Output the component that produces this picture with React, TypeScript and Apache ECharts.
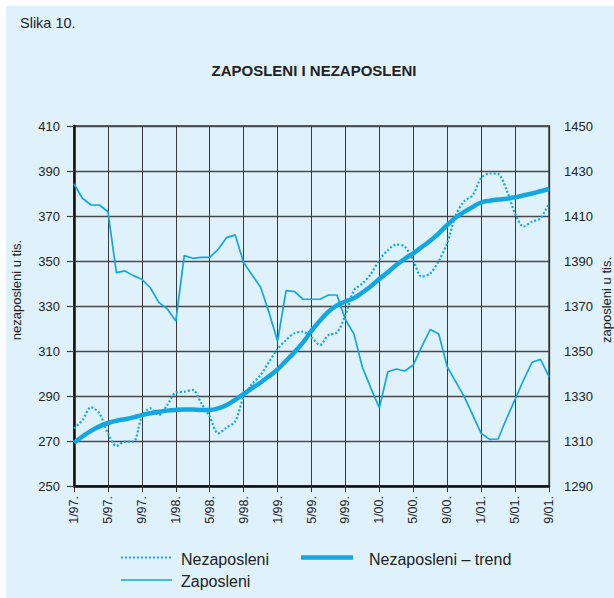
import React, { useEffect, useRef } from "react";
import * as echarts from "echarts";

// x categories: monthly from 1/97 to 9/01
const monthLabels: string[] = [];
for (let y = 1997; y <= 2001; y++) {
  for (let m = 1; m <= 12; m++) {
    if (y === 2001 && m > 9) break;
    monthLabels.push(`${m}/${String(y).slice(2)}.`);
  }
}

const nezaposleni = [
  275.6, 279.3, 285.0, 282.3, 273.4, 267.8, 269.7, 269.7, 280.8, 284.5, 281.6, 286.0,
  291.5, 291.9, 292.7, 286.8, 280.8, 273.4, 276.0, 278.6, 289.7, 295.3, 299.3, 305.2,
  310.8, 314.9, 317.9, 318.6, 316.0, 312.7, 317.1, 318.2, 326.0, 337.0, 340.0, 344.2,
  350.5, 354.8, 357.3, 356.4, 350.2, 343.0, 344.5, 350.0, 358.0, 370.2, 376.6, 379.2,
  386.9, 388.9, 388.7, 381.6, 371.2, 365.3, 367.5, 369.0, 375.8,
];

const nezaposleniTrend = [
  269.3, 272.0, 274.5, 276.5, 278.0, 279.0, 279.7, 280.5, 281.5, 282.3, 283.0, 283.5,
  283.8, 284.0, 284.0, 283.8, 283.8, 284.5, 286.0, 288.3, 290.9, 293.5, 296.0, 298.8,
  301.8, 305.6, 309.5, 313.8, 319.0, 323.5, 327.5, 330.3, 332.0, 333.5, 336.0, 338.8,
  342.0, 345.0, 348.2, 351.0, 353.4, 356.2, 359.0, 362.3, 366.0, 369.3, 371.8, 374.0,
  376.0, 376.8, 377.3, 377.7, 378.3, 379.2, 380.0, 381.0, 382.0,
];

const zaposleni = [
  1424.2, 1417.9, 1414.9, 1414.9, 1411.9, 1384.8, 1385.6, 1383.5, 1381.9, 1378.1, 1371.6, 1368.7,
  1363.3, 1392.4, 1391.2, 1391.6, 1391.6, 1395.2, 1400.4, 1401.6, 1389.3, 1383.8, 1378.3, 1367.0,
  1354.4, 1376.8, 1376.4, 1373.0, 1373.0, 1373.0, 1374.9, 1374.9, 1364.0, 1357.6, 1342.8, 1333.5,
  1324.7, 1340.8, 1342.0, 1341.1, 1343.8, 1351.9, 1359.6, 1357.6, 1343.0, 1336.4, 1329.7, 1321.6,
  1313.4, 1310.7, 1310.9, 1320.0, 1328.5, 1337.1, 1345.0, 1346.3, 1338.6,
];

const LINE = "#12a7e0";
const TXT = "#222222";
const GRIDC = "#3a3a3a";
const FONT = "'Liberation Sans', Arial, Helvetica, sans-serif";

export default function App() {
  const ref = useRef<HTMLDivElement>(null);
  useEffect(() => {
    if (!ref.current) return;
    const chart = echarts.init(ref.current, undefined, { renderer: "svg" });
    chart.setOption({
      animation: false,
      backgroundColor: "#dff1fb",
      textStyle: { fontFamily: FONT },
      grid: {
        left: 74,
        right: 65,
        top: 126,
        bottom: 112,
        show: true,
        borderColor: "#333",
        borderWidth: 1.3,
        backgroundColor: "transparent",
      },
      xAxis: {
        type: "category",
        data: monthLabels,
        boundaryGap: false,
        axisLine: { show: true, lineStyle: { color: "#111", width: 2.5 } },
        axisTick: { show: true, interval: 3, length: 6, lineStyle: { color: "#333", width: 1 } },
        axisLabel: {
          interval: 3,
          rotate: 90,
          margin: 10,
          fontSize: 12.5,
          color: TXT,
          fontFamily: FONT,
        },
        splitLine: { show: true, interval: 3, lineStyle: { color: GRIDC, width: 1 } },
      },
      yAxis: [
        {
          type: "value",
          min: 250,
          max: 410,
          interval: 20,
          axisLine: { show: true, lineStyle: { color: "#111", width: 2.5 } },
          axisTick: { show: true, length: 7, lineStyle: { color: "#444", width: 1.2 } },
          axisLabel: {
            margin: 14,
            fontSize: 13,
            color: TXT,
            fontFamily: FONT,
            formatter: (v: number) => String(v),
          },
          splitLine: { show: true, lineStyle: { color: "#4a4a4a", width: 1.3 } },
        },
        {
          type: "value",
          min: 1290,
          max: 1450,
          interval: 20,
          position: "right",
          axisLine: { show: true, lineStyle: { color: "#333", width: 1.3 } },
          axisTick: { show: false },
          axisLabel: {
            margin: 15,
            fontSize: 13,
            color: TXT,
            fontFamily: FONT,
            formatter: (v: number) => String(v),
          },
          splitLine: { show: false },
        },
      ],
      series: [
        {
          name: "Zaposleni",
          type: "line",
          yAxisIndex: 1,
          data: zaposleni,
          symbol: "none",
          lineStyle: { color: LINE, width: 1.7 },
          z: 3,
        },
        {
          name: "Nezaposleni",
          type: "line",
          yAxisIndex: 0,
          data: nezaposleni,
          symbol: "none",
          smooth: 0.3,
          lineStyle: { color: LINE, width: 2.2, type: [2, 2] },
          z: 4,
        },
        {
          name: "Nezaposleni – trend",
          type: "line",
          yAxisIndex: 0,
          data: nezaposleniTrend,
          symbol: "none",
          smooth: 0.4,
          lineStyle: { color: LINE, width: 4.5 },
          z: 5,
        },
      ],
      graphic: [
        { type: "rect", shape: { x: 0, y: 0, width: 614, height: 6 }, style: { fill: "#ffffff" }, silent: true },
        { type: "rect", shape: { x: 0, y: 0, width: 6, height: 598 }, style: { fill: "#ffffff" }, silent: true },
        {
          type: "text",
          x: 20,
          y: 23,
          style: { text: "Slika 10.", font: `14.5px ${FONT}`, fill: TXT, verticalAlign: "middle", align: "left" },
        },
        {
          type: "text",
          x: 314,
          y: 70,
          style: {
            text: "ZAPOSLENI I NEZAPOSLENI",
            font: `bold 15px ${FONT}`,
            fill: TXT,
            verticalAlign: "middle",
            align: "center",
          },
        },
        {
          type: "text",
          x: 16,
          y: 290,
          rotation: Math.PI / 2,
          style: { text: "nezaposleni u tis.", font: `13px ${FONT}`, fill: TXT, verticalAlign: "middle", align: "center" },
        },
        {
          type: "text",
          x: 606,
          y: 300,
          rotation: Math.PI / 2,
          style: { text: "zaposleni u tis.", font: `13px ${FONT}`, fill: TXT, verticalAlign: "middle", align: "center" },
        },
        // legend
        {
          type: "line",
          shape: { x1: 121, y1: 557.5, x2: 172, y2: 557.5 },
          style: { stroke: LINE, lineWidth: 2.2, lineDash: [2, 2] },
        },
        {
          type: "text",
          x: 181,
          y: 559,
          style: { text: "Nezaposleni", font: `16px ${FONT}`, fill: TXT, verticalAlign: "middle", align: "left" },
        },
        {
          type: "line",
          shape: { x1: 301, y1: 557.5, x2: 353, y2: 557.5 },
          style: { stroke: LINE, lineWidth: 4.5 },
        },
        {
          type: "text",
          x: 369,
          y: 559,
          style: { text: "Nezaposleni – trend", font: `16px ${FONT}`, fill: TXT, verticalAlign: "middle", align: "left" },
        },
        {
          type: "line",
          shape: { x1: 121, y1: 580, x2: 172, y2: 580 },
          style: { stroke: LINE, lineWidth: 1.7 },
        },
        {
          type: "text",
          x: 181,
          y: 581,
          style: { text: "Zaposleni", font: `16px ${FONT}`, fill: TXT, verticalAlign: "middle", align: "left" },
        },
      ],
    });
    return () => chart.dispose();
  }, []);
  return (
    <div
      ref={ref}
      style={{ position: "absolute", left: 0, top: 0, width: 614, height: 598 }}
    />
  );
}
